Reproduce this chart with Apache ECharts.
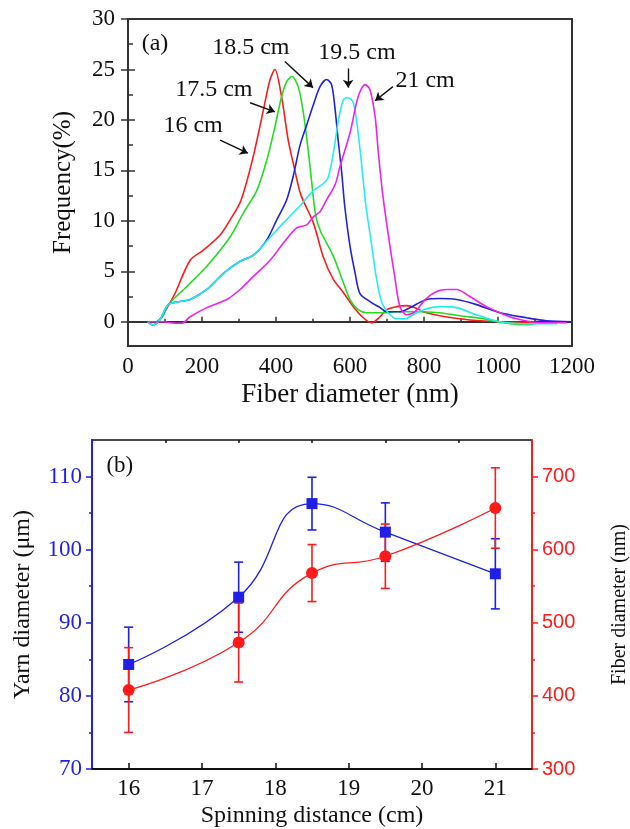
<!DOCTYPE html>
<html>
<head>
<meta charset="utf-8">
<script src="https://cdn.jsdelivr.net/npm/echarts@6/dist/echarts.min.js"></script>
<style>
  html, body { margin: 0; padding: 0; background: #fff; }
  #chart { width: 630px; height: 829px; }
</style>
</head>
<body>
<div id="chart"></div>
<script>
// ---- Panel (a): fiber diameter distributions, [diameter (nm), frequency (%)] ----
const dist16 = [[78,0],[86,0.2],[109,1.6],[127,2.8],[168,6.1],[204,7.1],[249,8.6],[276,10.1],[305,12.0],[338,16.3],[366,21.0],[384,24.0],[397,25.0],[415,22.3],[433,18.0],[451,15.0],[467,12.6],[501,9.8],[528,6.4],[555,4.2],[582,2.9],[609,1.5],[636,0.4],[659,-0.1],[681,0.5],[699,1.2],[726,1.5],[753,1.6],[776,1.4],[798,1.0],[843,0.6],[897,0.3],[951,0.1],[1005,0],[1095,-0.07]];
const dist175 = [[78,0],[95,0.6],[109,1.7],[159,3.5],[213,5.5],[276,8.4],[312,10.8],[348,13.0],[375,16.0],[397,19.3],[415,22.3],[429,23.8],[443,24.3],[460,23.3],[474,20.7],[487,17.0],[496,14.0],[507,10.6],[520,9.0],[537,7.8],[555,6.5],[582,3.9],[600,2.2],[622,1.2],[645,0.9],[690,0.9],[726,1.0],[780,1.0],[843,0.9],[897,0.6],[960,0.3],[1014,-0.1],[1077,-0.3],[1110,-0.1]];
const dist185 = [[53,0],[68,-0.3],[86,0.2],[109,1.7],[140,2.0],[168,2.2],[213,3.2],[258,4.8],[303,6.0],[339,6.6],[375,8.1],[402,10.1],[429,12.1],[447,14.5],[465,17.5],[483,19.5],[501,21.5],[519,23.3],[537,24.0],[550,23.5],[559,21.3],[568,18.0],[577,15.0],[586,11.4],[600,7.5],[614,4.8],[627,2.8],[654,2.0],[681,1.4],[699,1.0],[735,1.0],[762,1.4],[807,2.2],[843,2.3],[888,2.2],[942,1.7],[1005,0.9],[1077,0.4],[1131,0.1],[1200,0.0]];
const dist195 = [[53,0],[68,-0.3],[86,0.2],[109,1.7],[140,2.0],[168,2.2],[213,3.2],[258,4.8],[303,6.0],[339,6.6],[375,8.0],[420,9.8],[465,11.5],[501,13.0],[528,13.7],[541,14.3],[555,16.7],[569,20.0],[582,22.0],[595,22.2],[609,21.7],[622,18.7],[632,15.4],[641,12.1],[648,10.2],[659,7.5],[672,4.2],[686,1.9],[703,0.9],[726,0.3],[749,0.3],[771,0.7],[798,1.2],[843,1.5],[888,1.4],[942,0.7],[1005,0.0],[1095,-0.2],[1160,-0.2]];
const dist21 = [[53,0],[95,0],[113,-0.1],[145,-0.15],[168,0.5],[213,1.4],[267,2.2],[303,3.2],[339,4.5],[384,6.1],[420,7.8],[456,9.3],[483,9.6],[501,10.4],[519,10.9],[537,12.1],[560,13.6],[573,15.4],[600,18.7],[622,22.3],[641,23.5],[654,23.0],[668,20.3],[676,17.0],[686,13.4],[695,10.8],[708,7.5],[722,4.2],[735,1.5],[753,0.7],[776,1.0],[803,2.2],[834,3.0],[861,3.2],[888,3.2],[924,2.5],[969,1.5],[1005,0.9],[1050,0.3],[1114,-0.1],[1186,-0.1]];
const distSeries = [dist16, dist175, dist185, dist195, dist21];
const distNames = ['16 cm', '17.5 cm', '18.5 cm', '19.5 cm', '21 cm'];
const distColors = ['#ff1a1a', '#22dd22', '#2222dd', '#22eeee', '#ee22ee'];

const freqTicks = [0, 5, 10, 15, 20, 25, 30];
const freqMinorTicks = [2.5, 7.5, 12.5, 17.5, 22.5, 27.5];

// Panel (a) callouts: text anchor and arrow [tail, head], all in data units
const calloutText = ['(a)', '16 cm', '17.5 cm', '18.5 cm', '19.5 cm', '21 cm'];
const calloutAt = [[73, 27.6], [176, 19.4], [232, 23.0], [332, 27.2], [619, 26.7], [803, 23.9]];
const calloutArrows = [
  [[249, 18.0], [324, 16.7]],
  [[330, 21.7], [397, 20.8]],
  [[424, 25.8], [500, 23.2]],
  [[595, 25.1], [595, 23.2]],
  [[716, 23.3], [668, 21.9]]
];

// ---- Panel (b): yarn and fiber diameter vs spinning distance ----
const spinDistance = [16, 17.5, 18.5, 19.5, 21];
const yarnDiameter = [84.3, 93.5, 106.3, 102.4, 96.7];
const yarnError = [5.1, 4.8, 3.6, 4.0, 4.8];
const fiberDiameter = [408, 473, 568, 591, 657];
const fiberError = [58, 54, 39, 44, 55];

const distanceTicks = [16, 17, 18, 19, 20, 21];
const distanceMinorTicks = [16.5, 17.5, 18.5, 19.5, 20.5];
const yarnTicks = [70, 80, 90, 100, 110];
const yarnMinorTicks = [75, 85, 95, 105];
const fiberTicks = [300, 400, 500, 600, 700];
const fiberMinorTicks = [350, 450, 550, 650];

const SERIF = '"Liberation Serif", "Times New Roman", serif';
const SANS = '"Liberation Sans", Arial, sans-serif';
const INK = '#111';
const BLUE = '#1f1fe8';
const RED = '#ff1a1a';

const plain = v => String(v);

function tickOnlyAxis(base, values, length, inside, color) {
  return Object.assign({
    type: 'value',
    axisLine: { show: false },
    axisLabel: { show: false, customValues: values },
    axisTick: { show: true, inside: inside, length: length, customValues: values,
                lineStyle: { color: color, width: 1.5 } },
    splitLine: { show: false }
  }, base);
}

function errorBars(xs, ys, errs, xAxisIndex, yAxisIndex, color) {
  return {
    type: 'custom',
    xAxisIndex: xAxisIndex,
    yAxisIndex: yAxisIndex,
    silent: true,
    z: 2,
    encode: { x: 0, y: [1, 2] },
    data: xs.map((x, i) => [x, ys[i] - errs[i], ys[i] + errs[i]]),
    renderItem: function (params, api) {
      const lo = api.coord([api.value(0), api.value(1)]);
      const hi = api.coord([api.value(0), api.value(2)]);
      const w = 4.5;
      const st = { stroke: color, lineWidth: 1.6 };
      return {
        type: 'group',
        children: [
          { type: 'line', shape: { x1: lo[0], y1: lo[1], x2: hi[0], y2: hi[1] }, style: st },
          { type: 'line', shape: { x1: lo[0] - w, y1: lo[1], x2: lo[0] + w, y2: lo[1] }, style: st },
          { type: 'line', shape: { x1: hi[0] - w, y1: hi[1], x2: hi[0] + w, y2: hi[1] }, style: st }
        ]
      };
    }
  };
}

function textLabels(xAxisIndex, yAxisIndex, points, texts, fontSize) {
  return {
    type: 'scatter',
    xAxisIndex: xAxisIndex,
    yAxisIndex: yAxisIndex,
    symbolSize: 0,
    silent: true,
    z: 5,
    data: points.map((p, i) => ({ value: p, name: texts[i] })),
    label: {
      show: true, position: [0, 0], align: 'center', verticalAlign: 'middle',
      formatter: '{b}', color: INK, fontFamily: SERIF, fontSize: fontSize,
      textBorderWidth: 0, opacity: 1
    }
  };
}

const chart = echarts.init(document.getElementById('chart'), null, { renderer: 'canvas' });

const series = [];
distSeries.forEach((d, i) => {
  series.push({
    type: 'line',
    name: distNames[i],
    xAxisIndex: 0,
    yAxisIndex: 0,
    data: d,
    symbol: 'none',
    smooth: 0.3,
    lineStyle: { color: distColors[i], width: 1.6 },
    itemStyle: { color: distColors[i] },
    z: 3
  });
});

// callout labels for panel (a)
series.push(textLabels(0, 0, calloutAt, calloutText, 24));

// callout arrows for panel (a)
series.push({
  type: 'line',
  xAxisIndex: 0,
  yAxisIndex: 0,
  data: [],
  silent: true,
  z: 5,
  markLine: {
    silent: true,
    animation: false,
    symbol: ['none', 'arrow'],
    symbolSize: 8,
    label: { show: false },
    lineStyle: { color: INK, width: 1.4, type: 'solid' },
    data: calloutArrows.map(a => [
      { coord: a[0], symbol: 'none' },
      { coord: a[1], symbol: 'arrow', symbolSize: 8 }
    ])
  }
});

// panel (b)
series.push(errorBars(spinDistance, yarnDiameter, yarnError, 1, 3, BLUE));
series.push(errorBars(spinDistance, fiberDiameter, fiberError, 1, 6, RED));
series.push({
  type: 'line',
  name: 'Yarn diameter',
  xAxisIndex: 1,
  yAxisIndex: 3,
  data: spinDistance.map((x, i) => [x, yarnDiameter[i]]),
  smooth: 0.5,
  symbol: 'rect',
  symbolSize: 11,
  lineStyle: { color: BLUE, width: 1.3 },
  itemStyle: { color: BLUE },
  z: 4
});
series.push({
  type: 'line',
  name: 'Fiber diameter',
  xAxisIndex: 1,
  yAxisIndex: 6,
  data: spinDistance.map((x, i) => [x, fiberDiameter[i]]),
  smooth: 0.5,
  symbol: 'circle',
  symbolSize: 12,
  lineStyle: { color: RED, width: 1.3 },
  itemStyle: { color: RED },
  z: 4
});
series.push(textLabels(1, 3, [[15.88, 111.5]], ['(b)'], 23));

const option = {
  backgroundColor: '#fff',
  animation: false,
  grid: [
    { left: 128, top: 19, right: 58, bottom: 483, outerBoundsMode: 'none', containLabel: false,
      show: true, borderColor: '#333', borderWidth: 2, backgroundColor: 'transparent' },
    { left: 92, top: 440, right: 98, bottom: 60, outerBoundsMode: 'none', containLabel: false,
      show: true, borderColor: '#111', borderWidth: 1.5, backgroundColor: 'transparent' }
  ],
  xAxis: [
    {
      type: 'value', gridIndex: 0, min: 0, max: 1200, interval: 200,
      axisLine: { lineStyle: { color: '#333', width: 2 } },
      axisTick: { inside: true, length: 5, lineStyle: { color: '#333', width: 1.5 } },
      minorTick: { show: true, splitNumber: 2, length: 3, lineStyle: { color: '#333', width: 1.5 } },
      splitLine: { show: false },
      axisLabel: { margin: 9, color: INK, fontFamily: SERIF, fontSize: 23, formatter: plain },
      name: 'Fiber diameter (nm)', nameLocation: 'middle', nameGap: 35,
      nameTextStyle: { color: INK, fontFamily: SERIF, fontSize: 27 }
    },
    {
      type: 'value', gridIndex: 1, min: 15.5, max: 21.5,
      axisLine: { lineStyle: { color: '#111', width: 2 } },
      axisTick: { inside: true, length: 6, customValues: distanceTicks, lineStyle: { color: '#111', width: 1.5 } },
      splitLine: { show: false },
      axisLabel: { margin: 8, customValues: distanceTicks, color: INK, fontFamily: SERIF, fontSize: 23, formatter: plain },
      name: 'Spinning distance (cm)', nameLocation: 'middle', nameGap: 35,
      nameTextStyle: { color: INK, fontFamily: SERIF, fontSize: 24 }
    },
    tickOnlyAxis({ gridIndex: 1, min: 15.5, max: 21.5 }, distanceMinorTicks, 3, true, '#111')
  ],
  yAxis: [
    {
      type: 'value', gridIndex: 0, min: -2.4, max: 30,
      axisLine: { lineStyle: { color: '#333', width: 2 } },
      axisTick: { inside: false, length: 7, customValues: freqTicks, lineStyle: { color: '#333', width: 1.5 } },
      splitLine: { show: false },
      axisLabel: { margin: 13, customValues: freqTicks, color: INK, fontFamily: SERIF, fontSize: 23, formatter: plain },
      name: 'Frequency(%)', nameLocation: 'middle', nameGap: 52,
      nameTextStyle: { color: INK, fontFamily: SERIF, fontSize: 25 }
    },
    tickOnlyAxis({ gridIndex: 0, min: -2.4, max: 30, position: 'left' }, freqTicks, 7, true, '#333'),
    tickOnlyAxis({ gridIndex: 0, min: -2.4, max: 30, position: 'left' }, freqMinorTicks, 5, true, '#333'),
    {
      type: 'value', gridIndex: 1, min: 70, max: 115, position: 'left',
      axisLine: { lineStyle: { color: BLUE, width: 2 } },
      axisTick: { inside: false, length: 6, customValues: yarnTicks, lineStyle: { color: BLUE, width: 1.5 } },
      splitLine: { show: false },
      axisLabel: { margin: 10, customValues: yarnTicks, color: BLUE, fontFamily: SERIF, fontSize: 23, formatter: plain },
      name: 'Yarn diameter (\u03bcm)', nameLocation: 'middle', nameGap: 57,
      nameTextStyle: { color: INK, fontFamily: SERIF, fontSize: 24 }
    },
    tickOnlyAxis({ gridIndex: 1, min: 70, max: 115, position: 'left' }, yarnMinorTicks, 3, false, BLUE),
    tickOnlyAxis({ gridIndex: 1, min: 300, max: 750, position: 'right' }, fiberMinorTicks, 3, false, RED),
    {
      type: 'value', gridIndex: 1, min: 300, max: 750, position: 'right',
      axisLine: { lineStyle: { color: RED, width: 2 } },
      axisTick: { inside: false, length: 6, customValues: fiberTicks, lineStyle: { color: RED, width: 1.5 } },
      splitLine: { show: false },
      axisLabel: { margin: 10, customValues: fiberTicks, color: RED, fontFamily: SANS, fontSize: 20, formatter: plain },
      name: 'Fiber diameter (nm)', nameLocation: 'middle', nameGap: 78, nameRotate: 90,
      nameTextStyle: { color: INK, fontFamily: SERIF, fontSize: 20 }
    }
  ],
  series: series
};

chart.setOption(option);
</script>
</body>
</html>
